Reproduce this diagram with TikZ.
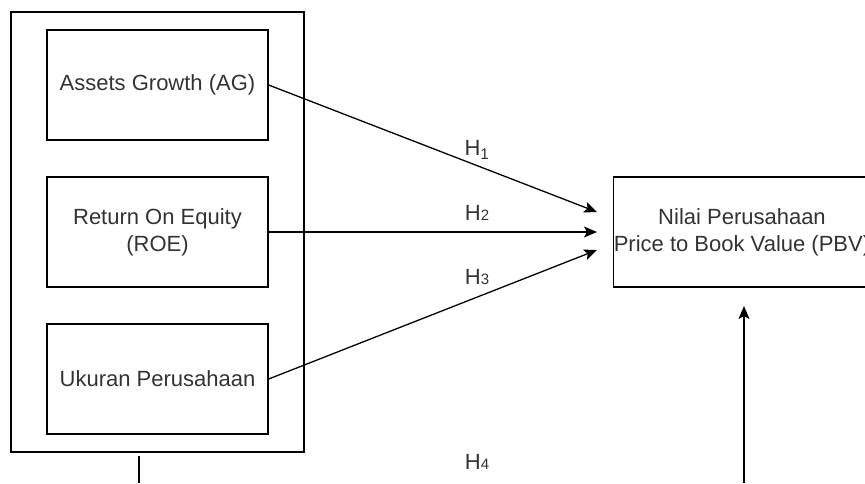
\documentclass[tikz,border=0pt]{standalone}
\usepackage{fontspec}
\setmainfont{Liberation Sans}
\usetikzlibrary{arrows.meta}
\begin{document}
\begin{tikzpicture}[x=1pt,y=-1pt,line width=1.3pt,
        every node/.style={font=\fontsize{22}{27}\selectfont, text=black!80},
        varbox/.style={draw, minimum width=221pt, minimum height=110pt, align=center, inner sep=0pt},
        hyp/.style={-{Stealth[length=13pt,width=11pt,inset=3pt]}}]
    \useasboundingbox (0,0) rectangle (865,483);
    \clip (0,0) rectangle (865,483);
    % independent variables
    \node[draw, minimum width=293pt, minimum height=440pt] (grp) at (157.5,232) {};
    \node[varbox] (ag) at (157.5,85) {Assets Growth (AG)};
    \node[varbox] (roe) at (157.5,232) {Return On Equity\\(ROE)};
    \node[varbox] (size) at (157.5,379) {Ukuran Perusahaan};
    % dependent variable
    \node[varbox, minimum width=254pt] (pbv) at (742,232) {Nilai Perusahaan\\Price to Book Value (PBV)};

    \coordinate (t1) at (597,212);
    \coordinate (t2) at (597,232);
    \coordinate (t3) at (597,250);
    \draw[hyp] (ag.east) -- (t1);
    \draw[hyp] (roe.east) -- (t2);
    \draw[hyp] (size.east) -- (t3);

    \node (h1) at (477,150) {H\textsubscript{1}};
    \node (h2) at (477,213) {H{\fontsize{15}{18}\selectfont 2}};
    \node (h3) at (477,277) {H{\fontsize{15}{18}\selectfont 3}};
    \node (h4) at (477,462) {H{\fontsize{15}{18}\selectfont 4}};

    % moderating path (cut off)
    \coordinate (m0) at (139,456);
    \coordinate (m1) at (139,483);
    \draw (m0) -- (m1);
    \coordinate (m2) at (744,483);
    \coordinate (m3) at (744,306);
    \draw[hyp] (m2) -- (m3);
\end{tikzpicture}
\end{document}
